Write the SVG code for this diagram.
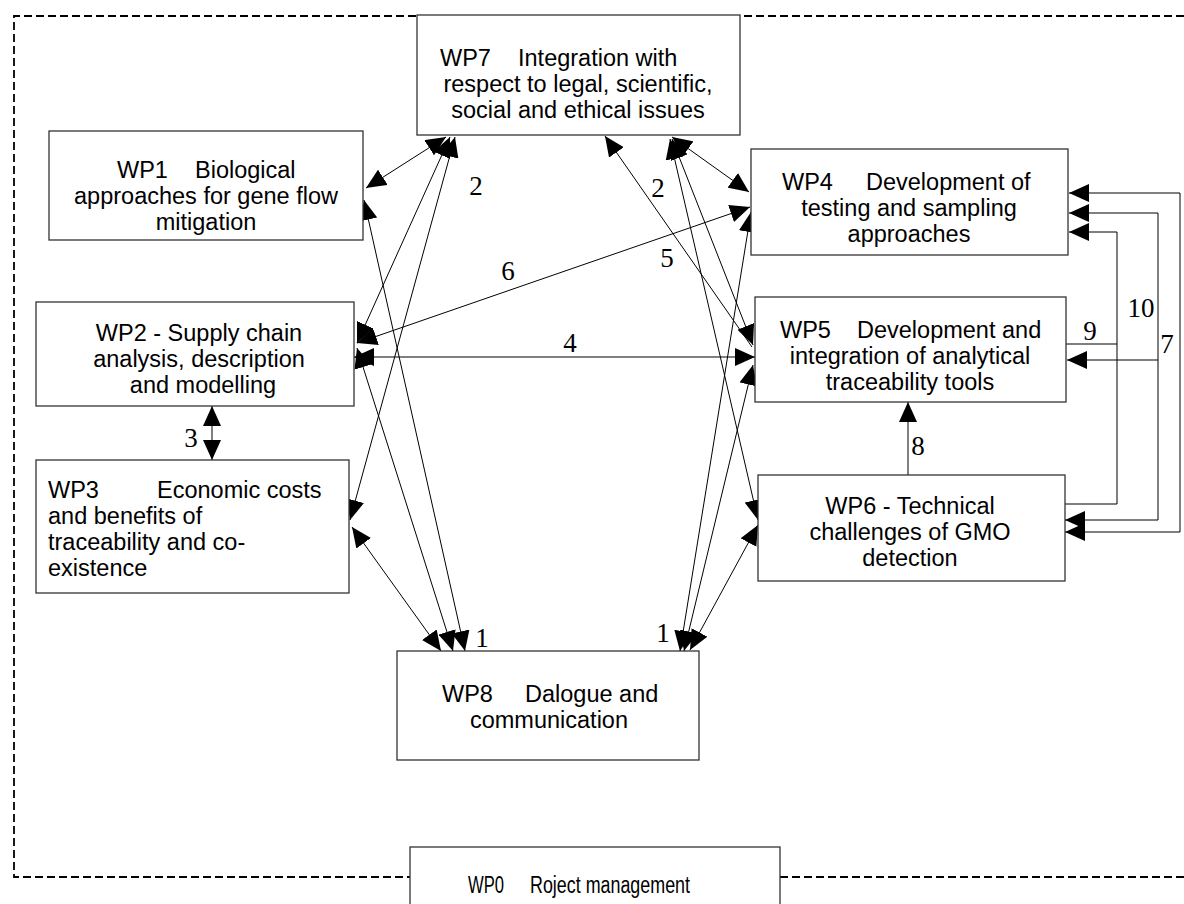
<svg xmlns="http://www.w3.org/2000/svg" width="1184" height="904" viewBox="0 0 1184 904">
  <style>
    .box { fill: #ffffff; stroke: #333333; stroke-width: 1.3; }
    .frame { fill: none; stroke: #000000; stroke-width: 1.8; stroke-dasharray: 8 4; }
    .lbl { font-family: "Liberation Sans", Arial, sans-serif; font-size: 23.5px; fill: #000000; text-anchor: middle; }
    .lbl-left { text-anchor: start; }
    .num { font-family: "Liberation Serif", "Times New Roman", serif; font-size: 27px; fill: #000000; text-anchor: middle; }
    .link { fill: none; stroke: #000000; stroke-width: 1; }
    .two { marker-start: url(#head); marker-end: url(#head); }
    .one { marker-end: url(#head); }
  </style>
  <defs>
    <marker id="head" viewBox="0 0 20 18" refX="20" refY="9" markerWidth="20" markerHeight="18" markerUnits="userSpaceOnUse" orient="auto-start-reverse">
      <path d="M0,0 L20,9 L0,18 z" fill="#000000"/>
    </marker>
  </defs>

  <rect width="1184" height="904" fill="#ffffff"/>

  <!-- project frame (WP0 scope) -->
  <path class="frame" d="M1184,16 H14 V877 H410 M780,877 H1184"/>

  <!-- connectors -->
  <g id="connectors">
    <!-- WP7 links (2) -->
    <line class="link two" x1="446" y1="137" x2="366" y2="188"/>
    <line class="link two" x1="450" y1="137" x2="357" y2="343"/>
    <line class="link two" x1="455" y1="137" x2="350" y2="520"/>
    <line class="link two" x1="672" y1="137" x2="749" y2="192"/>
    <line class="link two" x1="672" y1="139" x2="753" y2="345"/>
    <line class="link two" x1="670" y1="139" x2="758" y2="520"/>
    <!-- 5 -->
    <line class="link one" x1="752" y1="347" x2="605" y2="136"/>
    <!-- WP8 links (1) -->
    <line class="link two" x1="364" y1="200" x2="465" y2="651"/>
    <line class="link two" x1="357" y1="348" x2="453" y2="651"/>
    <line class="link two" x1="352" y1="527" x2="441" y2="651"/>
    <line class="link two" x1="751" y1="212" x2="680" y2="651"/>
    <line class="link two" x1="753" y1="365" x2="684" y2="651"/>
    <line class="link two" x1="758" y1="525" x2="690" y2="650"/>
    <!-- 6 -->
    <line class="link two" x1="357" y1="343" x2="750" y2="207"/>
    <!-- 4 -->
    <line class="link two" x1="354" y1="357" x2="755" y2="357"/>
    <!-- 3 -->
    <line class="link two" x1="212" y1="406" x2="212" y2="460"/>
    <!-- 8 -->
    <line class="link one" x1="908" y1="475" x2="908" y2="402"/>
    <!-- 9 -->
    <path class="link one" d="M1065,504 H1117 V232 H1069"/>
    <line class="link" x1="1066" y1="344" x2="1117" y2="344"/>
    <!-- 10 -->
    <path class="link two" d="M1069,213 H1158 V520 H1065"/>
    <path class="link one" d="M1158,360 H1067"/>
    <!-- 7 -->
    <path class="link two" d="M1069,193 H1180 V532 H1065"/>
  </g>

  <!-- link labels -->
  <g id="link-labels">
    <text class="num" x="476" y="195">2</text>
    <text class="num" x="658" y="197">2</text>
    <text class="num" x="667" y="267">5</text>
    <text class="num" x="508" y="280">6</text>
    <text class="num" x="570" y="352">4</text>
    <text class="num" x="191" y="447">3</text>
    <text class="num" x="482" y="647">1</text>
    <text class="num" x="663" y="642">1</text>
    <text class="num" x="918" y="455">8</text>
    <text class="num" x="1090" y="340">9</text>
    <text class="num" x="1141" y="317">10</text>
    <text class="num" x="1167" y="353">7</text>
  </g>

  <g id="wp7">
    <rect class="box" x="417" y="15" width="323" height="120"/>
    <text class="lbl lbl-left" x="440" y="66"><tspan>WP7</tspan><tspan x="518">Integration with</tspan></text>
    <text class="lbl" x="578" y="92">respect to legal, scientific,</text>
    <text class="lbl" x="578" y="118">social and ethical issues</text>
  </g>

  <g id="wp1">
    <rect class="box" x="49" y="131" width="314" height="109"/>
    <text class="lbl lbl-left" x="117" y="178"><tspan>WP1</tspan><tspan x="195">Biological</tspan></text>
    <text class="lbl" x="206" y="204">approaches for gene flow</text>
    <text class="lbl" x="206" y="230">mitigation</text>
  </g>

  <g id="wp2">
    <rect class="box" x="36" y="302" width="318" height="104"/>
    <text class="lbl" x="199" y="341">WP2 - Supply chain</text>
    <text class="lbl" x="199" y="367">analysis, description</text>
    <text class="lbl" x="203" y="393">and modelling</text>
  </g>

  <g id="wp3">
    <rect class="box" x="36" y="460" width="313" height="133"/>
    <text class="lbl lbl-left" x="48" y="498"><tspan>WP3</tspan><tspan x="157">Economic costs</tspan></text>
    <text class="lbl lbl-left" x="48" y="524">and benefits of</text>
    <text class="lbl lbl-left" x="48" y="550">traceability and co-</text>
    <text class="lbl lbl-left" x="48" y="576">existence</text>
  </g>

  <g id="wp4">
    <rect class="box" x="751" y="149" width="317" height="106"/>
    <text class="lbl lbl-left" x="782" y="190"><tspan>WP4</tspan><tspan x="866">Development of</tspan></text>
    <text class="lbl" x="909" y="216">testing and sampling</text>
    <text class="lbl" x="909" y="242">approaches</text>
  </g>

  <g id="wp5">
    <rect class="box" x="755" y="297" width="311" height="105"/>
    <text class="lbl lbl-left" x="780" y="338"><tspan>WP5</tspan><tspan x="857">Development and</tspan></text>
    <text class="lbl" x="910" y="364">integration of analytical</text>
    <text class="lbl" x="910" y="390">traceability tools</text>
  </g>

  <g id="wp6">
    <rect class="box" x="758" y="475" width="307" height="106"/>
    <text class="lbl" x="910" y="514">WP6 - Technical</text>
    <text class="lbl" x="910" y="540">challenges of GMO</text>
    <text class="lbl" x="910" y="566">detection</text>
  </g>

  <g id="wp8">
    <rect class="box" x="397" y="651" width="302" height="109"/>
    <text class="lbl lbl-left" x="442" y="702"><tspan>WP8</tspan><tspan x="525">Dalogue and</tspan></text>
    <text class="lbl" x="549" y="728">communication</text>
  </g>

  <g id="wp0">
    <rect class="box" x="410" y="847" width="370" height="70"/>
    <text class="lbl lbl-left" x="468" y="893"><tspan textLength="36" lengthAdjust="spacingAndGlyphs">WP0</tspan><tspan x="530" textLength="160" lengthAdjust="spacingAndGlyphs">Roject management</tspan></text>
  </g>
</svg>
